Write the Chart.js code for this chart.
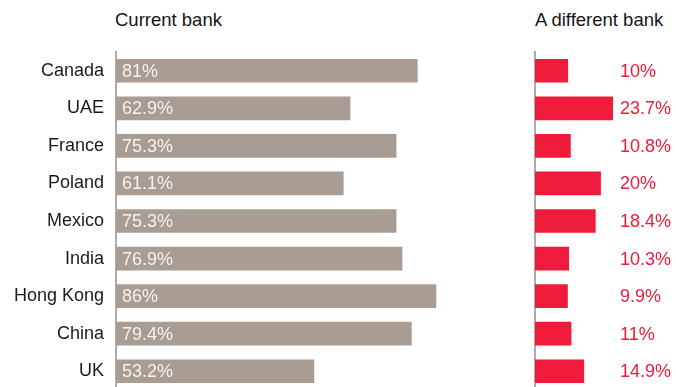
<!DOCTYPE html>
<html>
<head>
<meta charset="utf-8">
<script src="https://cdn.jsdelivr.net/npm/chart.js@4"></script>
<style>
  html, body { margin: 0; padding: 0; background: #fff; overflow: hidden; }
  #wrap { position: relative; width: 676px; height: 387px; }
  .head { position: absolute; top: 9px; font: 18.5px "Liberation Sans", Arial, sans-serif; color: #151515; }
  canvas { position: absolute; top: 0; }
</style>
</head>
<body>
<div id="wrap">
  <div class="head" style="left:115px">Current bank</div>
  <div class="head" style="left:535px">A different bank</div>
  <canvas id="left" width="500" height="390" style="left:0"></canvas>
  <canvas id="right" width="176" height="390" style="left:500px"></canvas>
</div>
<script>
const countries = ['Canada', 'UAE', 'France', 'Poland', 'Mexico', 'India', 'Hong Kong', 'China', 'UK'];
const currentBank = [81, 62.9, 75.3, 61.1, 75.3, 76.9, 86, 79.4, 53.2];
const differentBank = [10, 23.7, 10.8, 20, 18.4, 10.3, 9.9, 11, 14.9];

const FONT = '"Liberation Sans", Arial, sans-serif';
const GREY = '#a89c93';
const RED = '#ee1b3a';
const AXIS = '#b2aba5';

// writes each value as text, either inside the bar or in a column at a fixed offset
function valueLabels(color, offset) {
  return {
    id: 'valueLabels',
    afterDatasetsDraw(chart) {
      const { ctx, chartArea } = chart;
      const meta = chart.getDatasetMeta(0);
      const values = chart.data.datasets[0].data;
      ctx.save();
      ctx.font = '18px ' + FONT;
      ctx.fillStyle = color;
      ctx.textAlign = 'left';
      ctx.textBaseline = 'middle';
      meta.data.forEach((bar, i) => {
        ctx.fillText(values[i] + '%', chartArea.left + offset, bar.y + 1);
      });
      ctx.restore();
    }
  };
}

function makeChart(id, values, color, max, showLabels, axisWidth, rightPad, labelPlugin) {
  return new Chart(document.getElementById(id), {
    type: 'bar',
    data: {
      labels: countries,
      datasets: [{ data: values, backgroundColor: color, barThickness: 23 }]
    },
    options: {
      indexAxis: 'y',
      responsive: false,
      animation: false,
      layout: { padding: { top: 52, right: rightPad, bottom: 0, left: 0 } },
      plugins: { legend: { display: false }, tooltip: { enabled: false } },
      scales: {
        x: { display: false, min: 0, max: max },
        y: {
          afterFit(scale) {
            // keep the bands evenly spread over the full height
            scale.width = axisWidth;
            scale.paddingTop = 0;
            scale.paddingBottom = 0;
          },
          grid: { display: false, drawTicks: false },
          border: { display: true, color: AXIS, width: 2 },
          ticks: {
            display: showLabels,
            padding: 12,
            color: '#1a1a1a',
            font: { family: FONT, size: 18 }
          }
        }
      }
    },
    plugins: [labelPlugin]
  });
}

makeChart('left', currentBank, GREY, 100, true, 116, 12, valueLabels('#f6f2ee', 6));
makeChart('right', differentBank, RED, 43, false, 35, 0, valueLabels(RED, 85));
</script>
</body>
</html>
